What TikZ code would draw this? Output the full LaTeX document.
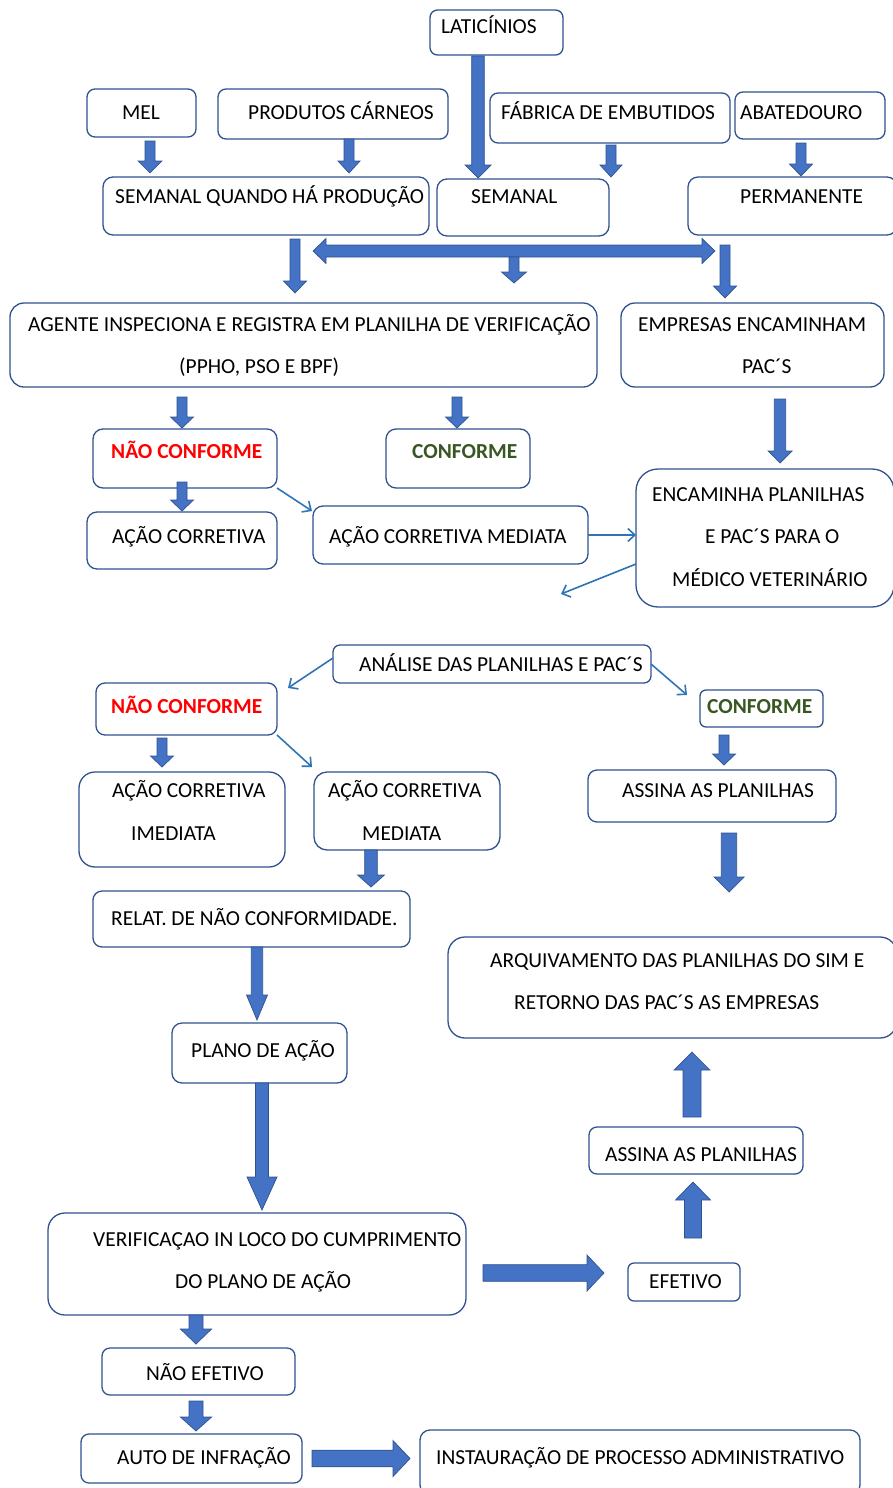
\documentclass[tikz,border=0pt]{standalone}
\usepackage{fontspec}
\setmainfont{Carlito}
\usetikzlibrary{calc,fit,arrows.meta}
\definecolor{borda}{RGB}{47,82,143}
\definecolor{setacor}{RGB}{68,114,196}
\definecolor{finacor}{RGB}{46,117,182}
\definecolor{verde}{RGB}{56,87,35}

\begin{document}
\begin{tikzpicture}[x=1pt, y=-1pt,
	caixa/.style={draw=borda, line width=1.3pt, rounded corners=#1, inner sep=0pt, outer sep=0pt},
	caixa/.default=8pt,
	texto/.style={anchor=base west, inner sep=0pt, font=\fontsize{21.4}{25}\selectfont},
	destaque/.style={texto, font=\fontsize{21.4}{25}\selectfont\bfseries},
	fina/.style={draw=finacor, line width=1.6pt, -{Straight Barb[length=7pt, width=13pt]}},
	seta/.style n args={3}{draw=borda, fill=setacor, line width=0.7pt, line join=miter,
		to path={let \p1=(\tikztostart), \p2=(\tikztotarget), \p3=($(\p2)!#3pt!(\p1)$) in
			($(\p1)!#1pt!90:(\p2)$) -- ($(\p3)!#1pt!90:(\p2)$) -- ($(\p3)!#2pt!90:(\p2)$) -- (\p2)
			-- ($(\p3)!#2pt!-90:(\p2)$) -- ($(\p3)!#1pt!-90:(\p2)$) -- ($(\p1)!#1pt!-90:(\p2)$) -- cycle}},
	seta dupla/.style n args={3}{draw=borda, fill=setacor, line width=0.7pt, line join=miter,
		to path={let \p1=(\tikztostart), \p2=(\tikztotarget),
			\p3=($(\p1)!#3pt!(\p2)$), \p4=($(\p2)!#3pt!(\p1)$) in
			(\p1) -- ($(\p3)!#2pt!90:(\p2)$) -- ($(\p3)!#1pt!90:(\p2)$) -- ($(\p4)!#1pt!-90:(\p1)$)
			-- ($(\p4)!#2pt!-90:(\p1)$) -- (\p2) -- ($(\p4)!#2pt!90:(\p1)$) -- ($(\p4)!#1pt!90:(\p1)$)
			-- ($(\p3)!#1pt!-90:(\p2)$) -- ($(\p3)!#2pt!-90:(\p2)$) -- cycle}}]
	\useasboundingbox (0,0) rectangle (893,1488);

	\node[caixa=7.5pt, fit={(430,10) (563,55)}] (lat) {};
	\node[texto] (lat t) at (441,34) {LATICÍNIOS};
	\node[caixa, fit={(87,89) (196,137)}] (mel) {};
	\node[texto] (mel t) at (122,119) {MEL};
	\node[caixa, fit={(218,89) (448,139)}] (prod) {};
	\node[texto] (prod t) at (248,119) {PRODUTOS CÁRNEOS};
	\node[caixa, fit={(490,93) (730,143)}] (fab) {};
	\node[texto] (fab t) at (501,119) {FÁBRICA DE EMBUTIDOS};
	\node[caixa, fit={(735,92) (885,139)}] (aba) {};
	\node[texto] (aba t) at (740,119) {ABATEDOURO};
	\node[caixa=10pt, fit={(103,177) (429,235)}] (semq) {};
	\node[texto] (semq t) at (115,203) {SEMANAL QUANDO HÁ PRODUÇÃO};
	\node[caixa=10pt, fit={(437,179) (609,236)}] (sem) {};
	\node[texto] (sem t) at (471,203) {SEMANAL};
	\node[caixa=10pt, fit={(688,177) (897,235)}] (perm) {};
	\node[texto] (perm t) at (740,203) {PERMANENTE};

	\node[caixa=14pt, fit={(10,303) (597,387)}] (agente) {};
	\node[texto] (agente t1) at (28,331) {AGENTE INSPECIONA E REGISTRA EM PLANILHA DE VERIFICAÇÃO};
	\node[texto] (agente t2) at (179,373) {(PPHO, PSO E BPF)};
	\node[caixa=14pt, fit={(621,303) (884,387)}] (emp) {};
	\node[texto] (emp t1) at (638,331) {EMPRESAS ENCAMINHAM};
	\node[texto] (emp t2) at (742,373) {PAC´S};
	\node[caixa=10pt, fit={(93,429) (277,488)}] (nc1) {};
	\node[destaque, text=red] (nc1 t) at (111,458) {NÃO CONFORME};
	\node[caixa=10pt, fit={(386,429) (530,488)}] (conf1) {};
	\node[destaque, text=verde] (conf1 t) at (412,458) {CONFORME};
	\node[caixa=10pt, fit={(87,512) (277,569)}] (ac) {};
	\node[texto] (ac t) at (112,543) {AÇÃO CORRETIVA};
	\node[caixa=10pt, fit={(313,506) (588,564)}] (acm1) {};
	\node[texto] (acm1 t) at (329,543) {AÇÃO CORRETIVA MEDIATA};
	\node[caixa=22pt, fit={(636,469) (894,607)}] (enc) {};
	\node[texto] (enc t1) at (652,501) {ENCAMINHA PLANILHAS};
	\node[texto] (enc t2) at (705,543) {E PAC´S PARA O};
	\node[texto] (enc t3) at (672,586) {MÉDICO VETERINÁRIO};

	\node[caixa=7pt, fit={(333,645) (651,683)}] (ana) {};
	\node[texto] (ana t) at (359,671) {ANÁLISE DAS PLANILHAS E PAC´S};
	\node[caixa=9pt, fit={(96,683) (277,735)}] (nc2) {};
	\node[destaque, text=red] (nc2 t) at (111,713) {NÃO CONFORME};
	\node[caixa=6pt, fit={(700,690) (823,727)}] (conf2) {};
	\node[destaque, text=verde] (conf2 t) at (707,713) {CONFORME};
	\node[caixa=16pt, fit={(79,772) (285,867)}] (aci) {};
	\node[texto] (aci t1) at (112,797) {AÇÃO CORRETIVA};
	\node[texto] (aci t2) at (131,840) {IMEDIATA};
	\node[caixa=13pt, fit={(314,772) (500,850)}] (acm2) {};
	\node[texto] (acm2 t1) at (328,797) {AÇÃO CORRETIVA};
	\node[texto] (acm2 t2) at (362,840) {MEDIATA};
	\node[caixa=9pt, fit={(588,770) (836,822)}] (ass1) {};
	\node[texto] (ass1 t) at (622,797) {ASSINA AS PLANILHAS};
	\node[caixa=9pt, fit={(93,891) (410,947)}] (relat) {};
	\node[texto] (relat t) at (111,925) {RELAT. DE NÃO CONFORMIDADE.};
	\node[caixa=17pt, fit={(448,937) (897,1038)}] (arq) {};
	\node[texto] (arq t1) at (490,967) {ARQUIVAMENTO DAS PLANILHAS DO SIM E};
	\node[texto] (arq t2) at (514,1009) {RETORNO DAS PAC´S AS EMPRESAS};
	\node[caixa=10pt, fit={(172,1023) (347,1083)}] (plano) {};
	\node[texto] (plano t) at (191,1057) {PLANO DE AÇÃO};
	\node[caixa, fit={(589,1127) (803,1174)}] (ass2) {};
	\node[texto] (ass2 t) at (605,1161) {ASSINA AS PLANILHAS};
	\node[caixa=17pt, fit={(48,1213) (466,1315)}] (verif) {};
	\node[texto] (verif t1) at (93,1246) {VERIFICAÇAO IN LOCO DO CUMPRIMENTO};
	\node[texto] (verif t2) at (175,1288) {DO PLANO DE AÇÃO};
	\node[caixa=6pt, fit={(628,1263) (740,1301)}] (efet) {};
	\node[texto] (efet t) at (649,1288) {EFETIVO};
	\node[caixa, fit={(102,1348) (295,1395)}] (nefet) {};
	\node[texto] (nefet t) at (146,1380) {NÃO EFETIVO};
	\node[caixa, fit={(81,1434) (302,1483)}] (auto) {};
	\node[texto] (auto t) at (117,1464) {AUTO DE INFRAÇÃO};
	\node[caixa=10pt, fit={(420,1430) (860,1495)}] (inst) {};
	\node[texto] (inst t) at (436,1464) {INSTAURAÇÃO DE PROCESSO ADMINISTRATIVO};
	\coordinate (solto) at (561,594);

	\draw[seta={5}{12}{12}] (mel.south) ++(8.5,4) to ++(0,32);
	\draw[seta={5}{11}{12}] (prod.south) ++(16,0) to ++(0,34);
	\draw[seta={6.3}{13}{13}] (lat.south) ++(-18.5,1) to ++(0,122);
	\draw[seta={5}{11}{12}] (fab.south) ++(1,2) to ++(0,32);
	\draw[seta={5}{11.5}{12}] (aba.south) ++(-9,4) to ++(0,33);
	\draw[seta={5}{11.5}{12}] (semq.south) ++(29,4) to ++(0,54);
	\draw[seta dupla={6}{12.5}{13}] (sem.south) ++(-210,15) to ++(402,0);
	\draw[seta={5}{12.5}{11}] (sem.south) ++(-9,21) to ++(0,26);
	\draw[seta={5}{11.5}{12}] (perm.south) ++(-67.5,10) to ++(0,53);
	\draw[seta={5}{11.5}{11}] (agente.south) ++(-121.5,10) to ++(0,31);
	\draw[seta={5}{11.5}{11}] (agente.south) ++(153.5,10) to ++(0,31);
	\draw[seta={5.7}{12}{12}] (emp.south) ++(27.5,12) to ++(0,64);
	\draw[seta={5}{11.5}{11}] (nc1.south) ++(-3,-6) to ++(0,29);
	\draw[seta={5}{11.5}{11}] (nc2.south) ++(-24.5,3) to ++(0,29);
	\draw[seta={5}{11.5}{11}] (conf2.south) ++(-37.5,8) to ++(0,30);
	\draw[seta={6.3}{13.4}{12}] (acm2.south) ++(-36,0) to ++(0,37);
	\draw[seta={7.7}{15}{15}] (ass1.south) ++(17,11) to ++(0,59);
	\draw[seta={5.7}{10.5}{25}] (relat.south) ++(5.5,0) to ++(0,73);
	\draw[seta={6.5}{15}{33}] (plano.south) ++(2.5,0) to ++(0,127);
	\draw[seta={9}{18}{18}] (ass2.north) ++(-4,-10) to ++(0,-65);
	\draw[seta={8.5}{17.5}{18}] (efet.north) ++(9,-25) to ++(0,-56);
	\draw[seta={8.3}{18}{17}] (verif.east) ++(17,9) to ++(121,0);
	\draw[seta={7}{15.6}{15}] (verif.south) ++(-61,0) to ++(0,29);
	\draw[seta={7}{15.6}{14}] (nefet.south) ++(-2.5,6) to ++(0,30);
	\draw[seta={8.3}{18}{17}] (auto.east) ++(10,0) to ++(98,0);

	\draw[fina] (nc1.south east) -- ([shift={(-1,5)}]acm1.north west);
	\draw[fina] (acm1.east) -- (acm1.east -| enc.west);
	\draw[fina] ([shift={(0,26)}]enc.west) -- (solto);
	\draw[fina] ([shift={(0,-6)}]ana.west) -- ([shift={(11,5)}]nc2.north east);
	\draw[fina] (ana.east) -- ([shift={(-13,5)}]conf2.north west);
	\draw[fina] (nc2.south east) -- ([shift={(-2,-5)}]acm2.north west);
\end{tikzpicture}
\end{document}
